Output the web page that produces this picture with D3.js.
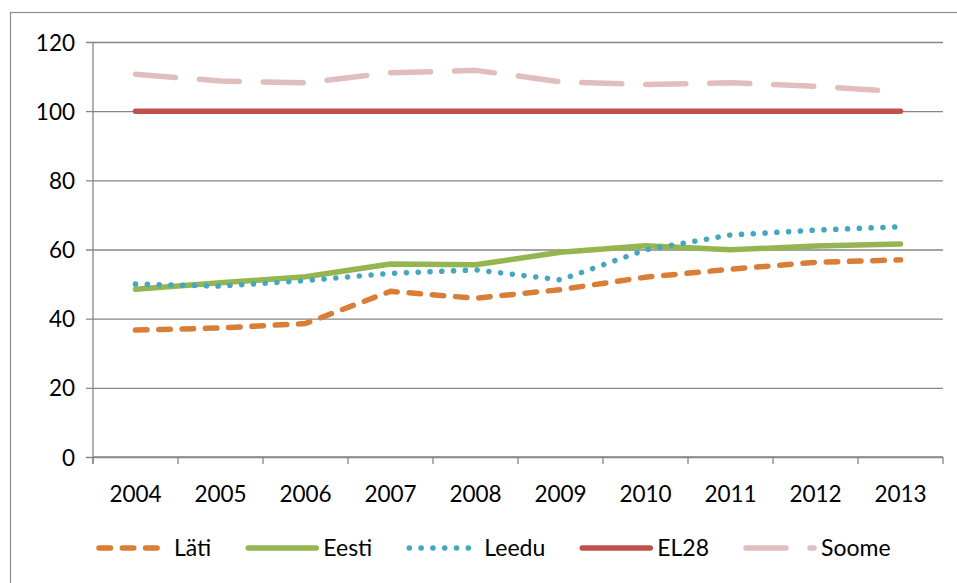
<!DOCTYPE html>
<html>
<head>
<meta charset="utf-8">
<script src="https://cdn.jsdelivr.net/npm/d3@7"></script>
<style>
  body { margin: 0; background: #fff; }
  svg text { font-family: Lato, "Open Sans", sans-serif; fill: #000; }
</style>
</head>
<body>
<svg id="chart" width="957" height="583"></svg>
<script>
// data
const years = ["2004", "2005", "2006", "2007", "2008", "2009", "2010", "2011", "2012", "2013"];
const lati  = [36.7, 37.3, 38.6, 47.9, 45.9, 48.4, 52.0, 54.3, 56.3, 57.0];
const eesti = [48.5, 50.4, 52.1, 55.8, 55.6, 59.2, 61.1, 59.9, 61.0, 61.6];
const leedu = [50.0, 49.4, 51.0, 53.1, 54.1, 51.2, 59.9, 64.2, 65.6, 66.6];
const el28  = [100, 100, 100, 100, 100, 100, 100, 100, 100, 100];
const soome = [110.7, 108.7, 108.2, 111.1, 111.8, 108.5, 107.7, 108.2, 107.2, 105.6];
const yTicks = [0, 20, 40, 60, 80, 100, 120];

const series = [
  {name: "Läti",  values: lati,  color: "#D97E37", dash: "11.5,11.8"},
  {name: "Eesti", values: eesti, color: "#95B551", dash: null},
  {name: "Leedu", values: leedu, color: "#45A6C1", dash: "0.1,11.7"},
  {name: "EL28",  values: el28,  color: "#C0504D", dash: null},
  {name: "Soome", values: soome, color: "#E2BDBD", dash: "40,24"}
];

const svg = d3.select("#chart");
const plot = {left: 93, right: 943, top: 42, bottom: 457};

// chart frame
svg.append("rect")
  .attr("x", 10.5).attr("y", 12.5)
  .attr("width", 960).attr("height", 590)
  .attr("fill", "none").attr("stroke", "#8c8c8c").attr("stroke-width", 1.2);

let x = d3.scaleBand().domain(years).range([plot.left, plot.right]);
let y = d3.scaleLinear().domain([0, 120]).range([plot.bottom, plot.top]);

// horizontal gridlines + y ticks
let yAxis = d3.axisLeft(y).tickValues(yTicks).tickSize(-(plot.right - plot.left)).tickSizeOuter(0).tickPadding(18);
let gy = svg.append("g")
  .attr("transform", "translate(" + plot.left + ",0)")
  .call(yAxis);
gy.select(".domain").remove();
gy.selectAll(".tick line")
  .attr("x1", -7)
  .attr("stroke", "#868686").attr("stroke-width", 1.3);
gy.selectAll(".tick text")
  .style("font-size", "22.5px")
  .attr("dy", "0.36em");

// y axis line
svg.append("line")
  .attr("x1", plot.left).attr("x2", plot.left)
  .attr("y1", plot.top).attr("y2", plot.bottom + 7)
  .attr("stroke", "#868686").attr("stroke-width", 1.3);

// x axis with ticks at category boundaries
let xAxis = svg.append("g");
xAxis.append("line")
  .attr("x1", plot.left).attr("x2", plot.right)
  .attr("y1", plot.bottom).attr("y2", plot.bottom)
  .attr("stroke", "#868686").attr("stroke-width", 1.3);
xAxis.selectAll(".xtick")
  .data(years.concat(["end"]))
  .enter().append("line")
  .attr("class", "xtick")
  .attr("x1", (d, i) => plot.left + i * x.bandwidth())
  .attr("x2", (d, i) => plot.left + i * x.bandwidth())
  .attr("y1", plot.bottom).attr("y2", plot.bottom + 7)
  .attr("stroke", "#868686").attr("stroke-width", 1.3);
xAxis.selectAll(".xlabel")
  .data(years)
  .enter().append("text")
  .attr("class", "xlabel")
  .attr("x", d => x(d) + x.bandwidth() / 2)
  .attr("y", 502)
  .attr("text-anchor", "middle")
  .style("font-size", "22.5px")
  .text(d => d);

// lines
let line = d3.line()
  .x((d, i) => x(years[i]) + x.bandwidth() / 2)
  .y(d => y(d));

svg.append("g").selectAll("path")
  .data(series)
  .enter().append("path")
  .attr("d", d => line(d.values))
  .attr("fill", "none")
  .attr("stroke", d => d.color)
  .attr("stroke-width", 5.5)
  .attr("stroke-linecap", "round")
  .attr("stroke-linejoin", "round")
  .attr("stroke-dasharray", d => d.dash);

// legend
let legend = svg.append("g");
let lx = 97;
let ly = 548;
series.forEach(s => {
  legend.append("line")
    .attr("x1", lx + 2).attr("x2", lx + 70)
    .attr("y1", ly).attr("y2", ly)
    .attr("stroke", s.color)
    .attr("stroke-width", 5.5)
    .attr("stroke-linecap", "round")
    .attr("stroke-dasharray", s.dash);
  let t = legend.append("text")
    .attr("x", lx + 77)
    .attr("y", ly + 8)
    .style("font-size", "23px")
    .text(s.name);
  lx = lx + 77 + t.node().getComputedTextLength() + 35;
});
</script>
</body>
</html>
